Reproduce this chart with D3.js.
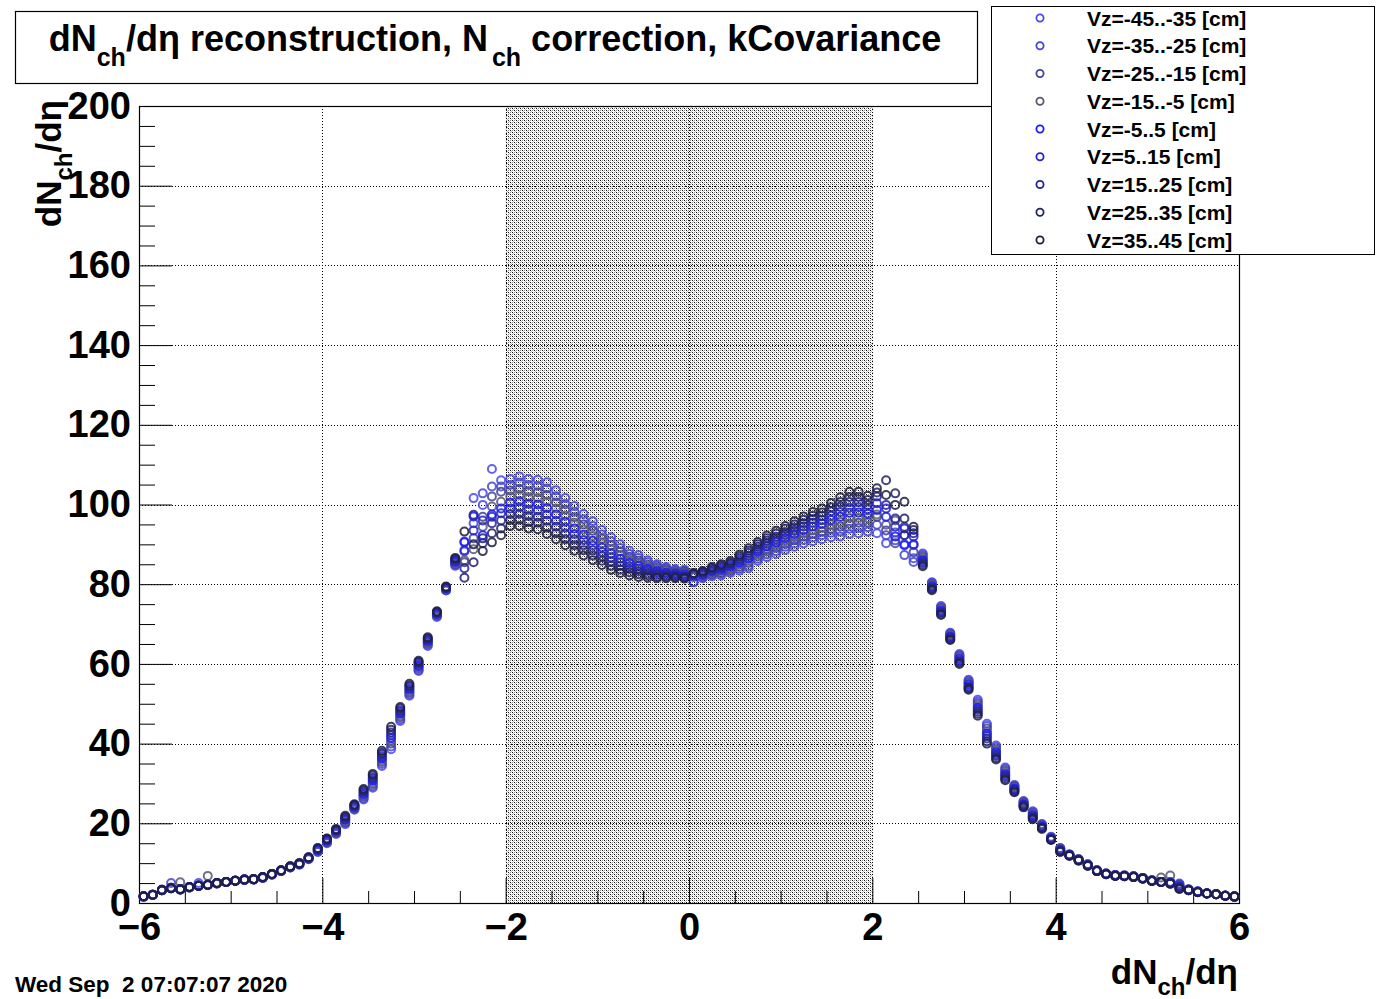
<!DOCTYPE html>
<html>
<head>
<meta charset="utf-8">
<script src="https://cdn.jsdelivr.net/npm/d3@7"></script>
<style>
  html, body { margin: 0; padding: 0; background: #fff; }
  svg { display: block; }
  text { font-family: "Liberation Sans", Arial, Helvetica, sans-serif; font-weight: bold; fill: #000; }
</style>
</head>
<body>
<svg id="chart" width="1385" height="999"></svg>
<script>
// ---- histogram binning (eta) ----
const etaRange = [-6, 6];
const nEtaBins = 120;

// ---- vertex-z classes ----
const vzLabels = [
  "Vz=-45..-35 [cm]", "Vz=-35..-25 [cm]", "Vz=-25..-15 [cm]",
  "Vz=-15..-5 [cm]", "Vz=-5..5 [cm]", "Vz=5..15 [cm]",
  "Vz=15..25 [cm]", "Vz=25..35 [cm]", "Vz=35..45 [cm]"
];
const seriesColors = ["#4848f0", "#4444d0", "#424296", "#585870", "#1a1aff", "#2424c8", "#22229a", "#22226a", "#1e1e40"];

// ---- dNch/deta per bin, one array per vertex class ----
const dndeta_vz0 = [
  1.6,2.0,3.3,3.8,3.5,3.9,5.0,4.5,4.9,5.3,5.6,5.8,5.9,6.3,7.1,8.0,8.9,9.6,11.0,12.8,
  15.0,17.3,19.8,23.4,26.0,28.9,34.4,38.6,45.7,52.0,58.2,64.5,71.8,78.4,84.6,88.2,101.6,99.9,108.9,106.1,
  106.4,107.0,106.4,106.2,105.6,103.6,101.6,99.6,97.6,95.8,93.6,91.8,90.0,88.4,87.3,86.0,85.0,84.3,83.8,83.6,
  81.8,81.5,82.0,82.2,82.8,83.4,84.0,85.8,86.8,87.6,88.6,89.4,90.2,90.8,91.3,91.8,92.0,92.6,92.8,93.2,
  92.8,90.3,91.0,90.0,86.5,87.7,80.5,74.5,67.8,62.5,56.0,51.0,45.0,39.5,34.0,29.6,25.6,23.0,19.8,16.6,
  13.8,12.2,11.0,9.7,8.2,7.4,7.0,6.9,6.7,6.3,5.7,5.3,5.3,4.9,3.4,2.9,2.4,2.2,1.8,1.6
];
const dndeta_vz1 = [
  1.6,2.0,3.3,5.0,3.5,3.9,4.4,4.5,4.9,5.3,5.6,5.8,5.9,6.3,7.1,8.0,8.9,9.7,11.1,12.9,
  15.2,17.5,20.1,23.6,26.3,29.3,34.9,39.3,46.1,52.4,58.5,64.8,72.0,78.5,84.9,90.7,95.3,102.8,104.5,104.5,
  104.9,105.5,104.9,104.7,104.0,102.1,100.1,98.2,96.3,94.6,92.5,90.8,89.1,87.6,86.6,85.5,84.6,84.0,83.5,83.3,
  81.9,81.7,82.3,82.6,83.2,83.9,84.6,86.4,87.5,88.3,89.4,90.2,91.1,91.7,92.3,92.9,93.2,93.9,94.1,94.3,
  94.9,92.3,93.0,87.3,85.6,87.3,80.3,74.2,67.6,62.2,55.7,50.5,44.4,39.1,33.6,29.4,25.4,22.8,19.7,16.5,
  13.7,12.2,11.0,9.7,8.2,7.4,7.0,6.9,6.7,6.3,5.7,5.3,5.3,4.7,3.4,2.9,2.4,2.2,1.8,1.6
];
const dndeta_vz2 = [
  1.6,2.0,3.3,3.8,3.5,3.9,4.4,4.5,4.9,5.3,5.6,5.8,5.9,6.4,7.2,8.1,9.0,9.7,11.1,13.1,
  15.3,17.6,20.3,23.8,26.7,29.8,35.4,40.0,46.6,52.8,58.9,65.1,72.2,78.7,85.1,85.5,91.5,96.9,102.0,103.2,
  103.5,103.9,103.3,103.1,102.4,100.5,98.7,96.8,95.0,93.4,91.4,89.8,88.2,86.9,85.9,84.9,84.1,83.6,83.2,83.1,
  82.1,82.0,82.6,82.9,83.6,84.4,85.3,87.0,88.2,89.1,90.1,91.0,91.9,92.6,93.2,93.9,94.5,95.2,95.4,95.5,
  96.9,93.5,90.3,94.4,88.0,86.9,80.0,74.0,67.4,61.9,55.4,50.0,43.8,38.6,33.2,29.2,25.2,22.5,19.5,16.4,
  13.6,12.1,10.9,9.6,8.2,7.4,7.0,6.9,6.7,6.3,5.7,5.3,5.1,4.5,3.3,2.8,2.4,2.2,1.8,1.6
];
const dndeta_vz3 = [
  1.6,2.0,3.3,3.8,5.2,3.9,4.4,6.8,4.9,5.3,5.6,5.8,5.9,6.4,7.2,8.1,9.0,9.8,11.2,13.2,
  15.5,17.8,20.6,23.9,27.0,30.2,35.8,40.7,47.0,53.1,59.2,65.3,72.3,78.8,85.4,86.0,88.8,94.4,99.5,100.7,
  102.0,102.4,101.8,101.6,100.7,99.0,97.2,95.4,93.7,92.1,90.3,88.7,87.3,86.1,85.2,84.4,83.7,83.3,82.9,82.8,
  82.2,82.2,82.9,83.3,83.9,84.9,85.9,87.6,88.8,89.8,90.9,91.8,92.8,93.5,94.2,95.0,95.7,96.6,96.7,96.6,
  97.5,94.9,96.0,92.3,89.8,86.5,79.8,73.7,67.1,61.6,55.1,49.5,43.1,38.2,32.8,28.9,25.0,22.3,19.4,16.3,
  13.4,12.1,10.9,9.6,8.1,7.3,6.9,6.8,6.6,6.2,5.6,6.4,6.9,4.3,3.3,2.8,2.4,2.2,1.8,1.6
];
const dndeta_vz4 = [
  1.6,2.1,3.2,3.7,3.4,4.0,4.3,4.5,5.0,5.3,5.6,5.9,6.0,6.4,7.2,8.1,9.1,9.8,11.3,13.3,
  15.6,18.0,20.9,24.1,27.3,30.7,36.3,41.4,47.5,53.5,59.5,65.6,72.5,78.9,85.6,90.5,97.0,92.3,97.5,99.0,
  100.5,100.8,100.2,100.0,99.1,97.5,95.7,94.0,92.4,90.9,89.2,87.7,86.4,85.3,84.6,83.8,83.3,82.9,82.7,82.5,
  80.5,82.4,83.2,83.6,84.3,85.4,86.5,88.2,89.5,90.5,91.6,92.6,93.6,94.5,95.2,96.1,96.9,97.9,98.0,97.7,
  98.6,96.9,92.0,89.8,90.0,86.1,79.5,73.4,66.9,61.3,54.8,49.0,42.5,37.8,32.4,28.7,24.8,22.0,19.2,16.2,
  13.3,12.0,10.8,9.5,8.1,7.3,6.9,6.8,6.6,6.2,5.6,5.3,5.0,4.2,3.3,2.8,2.4,2.2,1.8,1.6
];
const dndeta_vz5 = [
  1.7,2.1,3.2,3.7,3.4,4.0,4.3,4.6,5.0,5.3,5.6,5.9,6.0,6.4,7.2,8.1,9.1,9.9,11.3,13.4,
  15.8,18.1,21.1,24.3,27.6,31.1,36.8,42.1,47.9,53.9,59.8,65.9,72.7,79.0,85.9,88.5,93.5,96.0,96.9,97.8,
  99.0,99.3,98.7,98.5,97.5,95.9,94.2,92.6,91.1,89.7,88.1,86.7,85.5,84.5,83.9,83.3,82.8,82.6,82.4,82.2,
  82.4,82.6,83.4,84.0,84.7,85.9,87.1,88.8,90.2,91.2,92.4,93.4,94.5,95.4,96.1,97.2,98.1,99.2,99.3,98.8,
  100.3,99.0,94.4,94.0,92.0,85.7,79.3,73.1,66.7,60.9,54.4,48.5,41.9,37.3,32.0,28.5,24.6,21.8,19.1,16.1,
  13.2,12.0,10.8,9.5,8.1,7.3,6.9,6.8,6.6,6.2,5.6,5.3,5.0,4.0,3.3,2.8,2.4,2.2,1.8,1.6
];
const dndeta_vz6 = [
  1.7,2.1,3.2,3.7,3.4,4.0,4.3,4.6,5.0,5.3,5.6,5.9,6.0,6.5,7.3,8.2,9.1,9.9,11.4,13.6,
  15.9,18.3,21.4,24.5,28.0,31.5,37.3,42.8,48.3,54.3,60.2,66.2,72.9,79.2,86.1,84.0,97.4,90.3,95.3,96.0,
  97.6,97.7,97.1,96.9,95.9,94.4,92.7,91.2,89.8,88.5,87.0,85.7,84.6,83.8,83.2,82.7,82.4,82.2,82.1,81.9,
  82.6,82.9,83.7,84.3,85.1,86.4,87.8,89.4,90.9,91.9,93.1,94.2,95.3,96.3,97.1,98.3,99.4,100.6,100.6,99.9,
  102.0,99.9,96.5,92.3,92.8,85.3,79.0,72.9,66.5,60.6,54.1,48.0,41.3,36.9,31.6,28.3,24.4,21.5,18.9,16.0,
  13.1,11.9,10.7,9.4,8.0,7.2,6.8,6.7,6.5,6.1,5.5,5.3,4.9,3.8,3.2,2.8,2.4,2.2,1.8,1.6
];
const dndeta_vz7 = [
  1.7,2.1,3.2,3.7,3.4,4.0,4.3,4.6,5.0,5.3,5.6,5.9,6.0,6.5,7.3,8.2,9.2,10.0,11.4,13.7,
  16.1,18.4,21.6,24.6,28.3,32.0,37.7,43.5,48.8,54.6,60.5,66.4,73.0,79.3,86.4,81.6,85.5,91.5,92.8,94.0,
  96.1,96.2,95.6,95.4,94.2,92.8,91.3,89.8,88.5,87.2,85.9,84.6,83.7,83.0,82.5,82.2,81.9,81.9,81.8,81.7,
  82.7,83.1,84.0,84.7,85.4,86.9,88.4,90.0,91.5,92.7,93.9,95.0,96.2,97.2,98.0,99.3,100.6,101.9,101.9,101.1,
  103.0,106.1,102.8,96.5,93.6,84.9,78.8,72.6,66.2,60.3,53.8,47.5,40.6,36.4,31.2,28.0,24.2,21.3,18.8,15.9,
  12.9,11.9,10.7,9.4,8.0,7.2,6.8,6.7,6.5,6.1,5.5,5.3,4.9,3.6,3.2,2.7,2.4,2.2,1.8,1.6
];
const dndeta_vz8 = [
  1.7,2.1,3.2,3.7,3.4,4.0,4.3,4.6,5.0,5.3,5.6,5.9,6.0,6.5,7.3,8.2,9.2,10.0,11.5,13.8,
  16.2,18.6,21.9,24.8,28.6,32.4,38.2,44.2,49.2,55.0,60.8,66.7,73.2,79.4,86.6,93.2,90.0,88.3,90.5,92.3,
  94.6,94.6,94.0,93.8,92.6,91.3,89.8,88.4,87.2,86.0,84.8,83.6,82.8,82.2,81.8,81.6,81.5,81.5,81.5,81.4,
  82.8,83.3,84.3,85.0,85.8,87.4,89.0,90.6,92.2,93.4,94.6,95.8,97.0,98.1,99.0,100.4,101.8,103.2,103.2,102.2,
  104.1,102.4,99.9,100.7,94.4,84.5,78.5,72.3,66.0,60.0,53.5,47.0,40.0,36.0,30.8,27.8,24.0,21.0,18.6,15.8,
  12.8,11.8,10.6,9.3,8.0,7.2,6.8,6.7,6.5,6.1,5.5,5.3,4.8,3.5,3.2,2.7,2.4,2.2,1.8,1.6
];

// ---- axes ----
const xMajorTicks = [-6, -4, -2, 0, 2, 4, 6];
const xTickLabels = ["\u22126", "\u22124", "\u22122", "0", "2", "4", "6"];
const xMinorTicks = [-5.5, -5, -4.5, -3.5, -3, -2.5, -1.5, -1, -0.5, 0.5, 1, 1.5, 2.5, 3, 3.5, 4.5, 5, 5.5];
const yMajorTicks = [0, 20, 40, 60, 80, 100, 120, 140, 160, 180, 200];
const yTickLabels = ["0", "20", "40", "60", "80", "100", "120", "140", "160", "180", "200"];
const yMinorTicks = [5, 10, 15, 25, 30, 35, 45, 50, 55, 65, 70, 75, 85, 90, 95, 105, 110, 115, 125, 130, 135, 145, 150, 155, 165, 170, 175, 185, 190, 195];
const shadedEta = [-2, 2];

const seriesValues = [dndeta_vz0, dndeta_vz1, dndeta_vz2, dndeta_vz3, dndeta_vz4, dndeta_vz5, dndeta_vz6, dndeta_vz7, dndeta_vz8];
const series = vzLabels.map((label, i) => ({ label, color: seriesColors[i], values: seriesValues[i] }));

// ---- layout ----
const frame = { left: 139, right: 1239, top: 106, bottom: 903 };
const svg = d3.select("#chart");

const binWidth = (etaRange[1] - etaRange[0]) / nEtaBins;
const etaCenters = d3.range(nEtaBins).map(i => etaRange[0] + (i + 0.5) * binWidth);

const x = d3.scaleLinear().domain(etaRange).range([frame.left, frame.right]);
const y = d3.scaleLinear().domain([0, 200]).range([frame.bottom, frame.top]);

svg.append("rect").attr("width", 1385).attr("height", 999).attr("fill", "#fff");

// fine dotted fill for the shaded eta region
const defs = svg.append("defs");
const pat = defs.append("pattern").attr("id", "dots")
  .attr("patternUnits", "userSpaceOnUse").attr("width", 4).attr("height", 4);
pat.append("rect").attr("width", 4).attr("height", 4).attr("fill", "#fff");
[[0, 0, "#111"], [2, 2, "#111"], [0, 2, "#909090"], [2, 0, "#909090"], [1, 1, "#c4c4c4"], [3, 3, "#c4c4c4"]]
  .forEach(([px, py, c]) => pat.append("rect").attr("x", px).attr("y", py).attr("width", 1).attr("height", 1).attr("fill", c));

svg.append("rect")
  .attr("x", x(shadedEta[0])).attr("y", frame.top)
  .attr("width", x(shadedEta[1]) - x(shadedEta[0]))
  .attr("height", frame.bottom - frame.top)
  .attr("fill", "url(#dots)");

// grid
const grid = svg.append("g").attr("stroke", "#000").attr("stroke-width", 1).attr("stroke-dasharray", "1,2");
grid.selectAll("line.gx").data(xMajorTicks.slice(1, -1)).join("line")
  .attr("x1", d => Math.round(x(d)) + 0.5).attr("x2", d => Math.round(x(d)) + 0.5)
  .attr("y1", frame.top).attr("y2", frame.bottom);
grid.selectAll("line.gy").data(yMajorTicks.slice(1, -1)).join("line")
  .attr("class", "gy")
  .attr("x1", frame.left).attr("x2", frame.right)
  .attr("y1", d => Math.round(y(d)) + 0.5).attr("y2", d => Math.round(y(d)) + 0.5);

// axes (ticks pointing inward)
const yAxisMajor = d3.axisLeft(y).tickValues(yMajorTicks).tickSize(-33).tickPadding(8)
  .tickFormat((d, i) => yTickLabels[i]);
const yAxisMinor = d3.axisLeft(y).tickValues(yMinorTicks).tickSize(-16).tickFormat("");
const xAxisMajor = d3.axisBottom(x).tickValues(xMajorTicks).tickSize(-25).tickPadding(10)
  .tickFormat((d, i) => xTickLabels[i]);
const xAxisMinor = d3.axisBottom(x).tickValues(xMinorTicks).tickSize(-12).tickFormat("");

function styleAxis(g, size) {
  g.select(".domain").remove();
  g.selectAll("line").attr("stroke", "#000").attr("stroke-width", 1);
  g.selectAll("text").attr("font-size", size).attr("font-family", "Liberation Sans, Arial, sans-serif")
    .attr("font-weight", "bold").attr("fill", "#000");
}
svg.append("g").attr("transform", `translate(${frame.left},0)`).call(yAxisMajor).call(g => styleAxis(g, 38));
svg.append("g").attr("transform", `translate(${frame.left},0)`).call(yAxisMinor).call(g => styleAxis(g, 38));
svg.append("g").attr("transform", `translate(0,${frame.bottom})`).call(xAxisMajor).call(g => styleAxis(g, 38));
svg.append("g").attr("transform", `translate(0,${frame.bottom})`).call(xAxisMinor).call(g => styleAxis(g, 38));

// frame
svg.append("rect")
  .attr("x", frame.left + 0.5).attr("y", frame.top + 0.5)
  .attr("width", frame.right - frame.left).attr("height", frame.bottom - frame.top)
  .attr("fill", "none").attr("stroke", "#000").attr("stroke-width", 1.2);

// data points (open circles)
const pts = svg.append("g");
series.forEach(s => {
  pts.append("g")
    .attr("fill", "none").attr("stroke", s.color).attr("stroke-width", 2).attr("stroke-opacity", 0.85)
    .selectAll("circle")
    .data(s.values.map((v, i) => ({ eta: etaCenters[i], v })).filter(d => d.v > 0))
    .join("circle")
    .attr("cx", d => x(d.eta)).attr("cy", d => y(d.v)).attr("r", 4);
});

// title box
svg.append("rect").attr("x", 15.5).attr("y", 11.5).attr("width", 962).attr("height", 72)
  .attr("fill", "#fff").attr("stroke", "#000").attr("stroke-width", 1.2);
const title = svg.append("text").attr("x", 495).attr("y", 51).attr("text-anchor", "middle").attr("font-size", 36);
title.append("tspan").text("dN");
title.append("tspan").attr("font-size", 25).attr("dy", 15).text("ch");
title.append("tspan").attr("dy", -15).text("/d\u03b7 reconstruction, N");
title.append("tspan").attr("font-size", 25).attr("dy", 15).attr("dx", 4).text("ch");
title.append("tspan").attr("dy", -15).text(" correction, kCovariance");

// legend
svg.append("rect").attr("x", 991.5).attr("y", 6.5).attr("width", 383).attr("height", 248)
  .attr("fill", "#fff").attr("stroke", "#000").attr("stroke-width", 1);
const legendRowY = d3.scaleLinear().domain([0, series.length - 1]).range([18, 240]);
const leg = svg.append("g");
series.forEach((s, i) => {
  leg.append("circle").attr("cx", 1040).attr("cy", legendRowY(i)).attr("r", 3.6)
    .attr("fill", "none").attr("stroke", s.color).attr("stroke-width", 1.8);
  leg.append("text").attr("x", 1087).attr("y", legendRowY(i)).attr("dy", "0.36em")
    .attr("font-size", 21).text(s.label);
});

// axis titles
const xt = svg.append("text").attr("x", 1238).attr("y", 984).attr("text-anchor", "end").attr("font-size", 35);
xt.append("tspan").text("dN");
xt.append("tspan").attr("font-size", 24).attr("dy", 11).text("ch");
xt.append("tspan").attr("dy", -11).text("/d\u03b7");

const yt = svg.append("text").attr("transform", "translate(61,100) rotate(-90)")
  .attr("text-anchor", "end").attr("font-size", 35);
yt.append("tspan").text("dN");
yt.append("tspan").attr("font-size", 24).attr("dy", 11).text("ch");
yt.append("tspan").attr("dy", -11).text("/d\u03b7");

// time stamp
svg.append("text").attr("x", 15).attr("y", 992).attr("font-size", 22.5)
  .style("white-space", "pre").text("Wed Sep  2 07:07:07 2020");
</script>
</body>
</html>
